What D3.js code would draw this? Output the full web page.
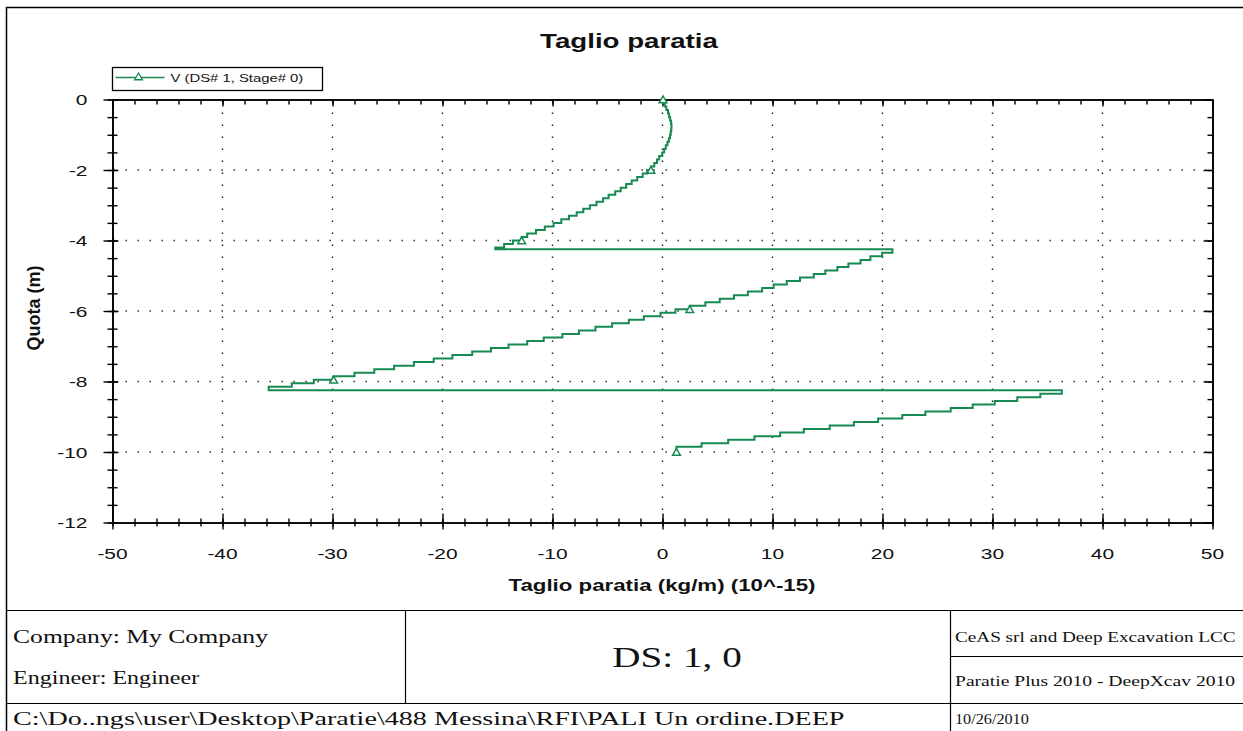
<!DOCTYPE html>
<html>
<head>
<meta charset="utf-8">
<script src="https://cdn.jsdelivr.net/npm/d3@7"></script>
<style>
  body { margin: 0; background: #fff; }
  svg { display: block; }
</style>
</head>
<body>
<svg id="chart" width="1243" height="731"></svg>
<script>
// element top depth (m) and shear value in that element
const depthTop = [
    0, -0.1, -0.2, -0.3, -0.4, -0.5, -0.6, -0.7, -0.8, -0.9, -1, -1.1, -1.2, -1.3, -1.4,
    -1.5, -1.6, -1.7, -1.8, -1.9, -2, -2.1, -2.2, -2.3, -2.4, -2.5, -2.6, -2.7, -2.8, -2.9,
    -3, -3.1, -3.2, -3.3, -3.4, -3.5, -3.6, -3.7, -3.8, -3.9, -4, -4.1, -4.2,
    -4.25, -4.35, -4.45, -4.55, -4.65, -4.75, -4.85, -4.95, -5.05, -5.15, -5.25, -5.35,
    -5.45, -5.55, -5.65, -5.75, -5.85, -5.95, -6.05, -6.15, -6.25, -6.35, -6.45, -6.55,
    -6.65, -6.75, -6.85, -6.95, -7.05, -7.15, -7.25, -7.35, -7.45, -7.55, -7.65, -7.75,
    -7.85, -7.95, -8.05, -8.15,
    -8.25, -8.35, -8.45, -8.55, -8.65, -8.75, -8.85, -8.95, -9.05, -9.15, -9.25, -9.35,
    -9.45, -9.55, -9.65, -9.75, -9.85
];
const depthBottom = -10;
const shear = [
    0.05, 0.2, 0.35, 0.5, 0.6, 0.7, 0.78, 0.82, 0.8, 0.75, 0.68, 0.58, 0.45, 0.3, 0.15,
    -0.02, -0.3, -0.5, -0.75, -1.05, -1.4, -1.8, -2.3, -2.8, -3.3, -3.8, -4.3, -4.9, -5.4, -6.0,
    -6.6, -7.2, -7.8, -8.5, -9.2, -9.9, -10.7, -11.5, -12.3, -12.8, -13.6, -14.4, -15.2,
    20.9, 19.97, 18.9, 18.0, 16.9, 15.9, 14.8, 13.75, 12.5, 11.3, 10.1, 9.06,
    7.76, 6.5, 5.2, 3.9, 2.48, 1.18, -0.18, -1.7, -3.06, -4.58, -6.09, -7.6,
    -9.1, -10.8, -12.3, -14.0, -15.6, -17.3, -19.1, -20.8, -22.6, -24.4, -26.2, -28.0,
    -29.9, -31.7, -33.7, -35.8,
    36.3, 34.35, 32.25, 30.2, 28.2, 26.2, 23.9, 21.8, 19.6, 17.4, 15.2, 12.85,
    10.7, 8.36, 5.97, 3.55, 1.27
];
const markerDepths = [0, -2, -4, -6, -8, -10];

const xTicks = [-50, -40, -30, -20, -10, 0, 10, 20, 30, 40, 50];
const yTicks = [0, -2, -4, -6, -8, -10, -12];

const chartTitle = "Taglio paratia";
const xTitle = "Taglio paratia (kg/m) (10^-15)";
const yTitle = "Quota (m)";
const legendLabel = "V (DS# 1, Stage# 0)";

const companyText = "Company: My Company";
const engineerText = "Engineer: Engineer";
const pathText = "C:\\Do..ngs\\user\\Desktop\\Paratie\\488 Messina\\RFI\\PALI Un ordine.DEEP";
const dsText = "DS: 1, 0";
const creditText = "CeAS srl and Deep Excavation LCC";
const versionText = "Paratie Plus 2010 - DeepXcav 2010";
const dateText = "10/26/2010";

const green = "#178a52";
const sans = "'Liberation Sans', Arial, sans-serif";
const serif = "'Liberation Serif', 'Times New Roman', serif";
const stretch = 1.35; // the picture is wider than the fonts

const svg = d3.select("#chart");
const W = +svg.attr("width");

const x = d3.scaleLinear().domain([-50, 50]).range([112.5, 1212.5]);
const y = d3.scaleLinear().domain([-12, 0]).range([522.5, 99.5]);

// text drawn inside a horizontally scaled group
function label(parent, o) {
    return parent.append("g")
        .attr("transform", `translate(${o.x},${o.y}) scale(${o.k || stretch},1)`)
        .append("text")
        .attr("text-anchor", o.anchor || "start")
        .attr("font-family", o.family || sans)
        .attr("font-weight", o.weight || "normal")
        .attr("font-size", o.size)
        .attr("fill", "#111")
        .text(o.text);
}

// outer frame + footer table
svg.append("rect")
    .attr("x", 6.5).attr("y", 7.5)
    .attr("width", W + 10).attr("height", 740)
    .attr("fill", "none").attr("stroke", "#000").attr("stroke-width", 1.5);

const foot = svg.append("g").attr("stroke", "#000").attr("stroke-width", 1.2);
foot.append("line").attr("x1", 6).attr("x2", W).attr("y1", 610.5).attr("y2", 610.5);
foot.append("line").attr("x1", 6).attr("x2", W).attr("y1", 703.5).attr("y2", 703.5);
foot.append("line").attr("x1", 950.5).attr("x2", W).attr("y1", 656.5).attr("y2", 656.5);
foot.append("line").attr("x1", 405.5).attr("x2", 405.5).attr("y1", 610).attr("y2", 704);
foot.append("line").attr("x1", 950.5).attr("x2", 950.5).attr("y1", 610).attr("y2", 731);

label(svg, {x: 13, y: 643, size: 19, family: serif, text: companyText});
label(svg, {x: 13, y: 684, size: 18.5, family: serif, k: 1.3, text: engineerText});
label(svg, {x: 13, y: 725, size: 18.5, family: serif, k: 1.52, text: pathText});
label(svg, {x: 677, y: 667, size: 29, family: serif, anchor: "middle", text: dsText});
label(svg, {x: 955, y: 642, size: 14, family: serif, k: 1.37, text: creditText});
label(svg, {x: 955, y: 686, size: 14, family: serif, k: 1.4, text: versionText});
label(svg, {x: 955, y: 724, size: 15, family: serif, k: 1.08, text: dateText});

// grid
const grid = svg.append("g")
    .attr("stroke", "#222").attr("stroke-width", 1.4)
    .attr("stroke-dasharray", "1.4 10.6");
grid.selectAll(".gx").data(xTicks.slice(1, -1)).join("line")
    .attr("x1", d => x(d)).attr("x2", d => x(d))
    .attr("y1", y(0) + 1).attr("y2", y(-12));
grid.selectAll(".gy").data(yTicks.slice(1, -1)).join("line")
    .attr("y1", d => y(d)).attr("y2", d => y(d))
    .attr("x1", x(-50) + 1).attr("x2", x(50));

// axes (lines and ticks from d3.axis, labels drawn stretched)
function styleAxis(g) {
    g.select(".domain").attr("stroke", "#000").attr("stroke-width", 1.6);
    g.selectAll(".tick line").attr("stroke", "#000").attr("stroke-width", 1.4);
}

// bottom
svg.append("g").attr("transform", `translate(0,${y(-12)})`)
    .call(d3.axisBottom(x).ticks(50).tickFormat("").tickSizeOuter(0))
    .call(styleAxis)
    .call(g => g.selectAll(".tick line").attr("y1", -4).attr("y2", 4));
svg.append("g").attr("transform", `translate(0,${y(-12)})`)
    .call(d3.axisBottom(x).tickValues(xTicks).tickFormat("").tickSizeOuter(0))
    .call(styleAxis)
    .call(g => g.selectAll(".tick line").attr("y1", -9).attr("y2", 7));
const xLab = svg.append("g");
xTicks.forEach(t => label(xLab, {x: x(t), y: y(-12) + 36, size: 15.5, anchor: "middle", text: String(t)}));

// top
svg.append("g").attr("transform", `translate(0,${y(0)})`)
    .call(d3.axisBottom(x).ticks(50).tickFormat("").tickSize(5).tickSizeOuter(0))
    .call(styleAxis);
svg.append("g").attr("transform", `translate(0,${y(0)})`)
    .call(d3.axisBottom(x).tickValues(xTicks).tickFormat("").tickSize(7).tickSizeOuter(0))
    .call(styleAxis);

// left
svg.append("g").attr("transform", `translate(${x(-50)},0)`)
    .call(d3.axisLeft(y).ticks(24).tickFormat("").tickSizeOuter(0))
    .call(styleAxis)
    .call(g => g.selectAll(".tick line").attr("x1", -5).attr("x2", 5));
svg.append("g").attr("transform", `translate(${x(-50)},0)`)
    .call(d3.axisLeft(y).tickValues(yTicks).tickFormat("").tickSizeOuter(0))
    .call(styleAxis)
    .call(g => g.selectAll(".tick line").attr("x1", -9).attr("x2", 6));
const yLab = svg.append("g");
yTicks.forEach(t => label(yLab, {x: x(-50) - 25, y: y(t) + 5.5, size: 15.5, anchor: "end", text: String(t)}));

// right
svg.append("g").attr("transform", `translate(${x(50)},0)`)
    .call(d3.axisLeft(y).ticks(24).tickFormat("").tickSize(-5).tickSizeOuter(0))
    .call(styleAxis)
    .call(g => g.selectAll(".tick line").attr("x1", -5).attr("x2", 0));
svg.append("g").attr("transform", `translate(${x(50)},0)`)
    .call(d3.axisLeft(y).tickValues(yTicks).tickFormat("").tickSizeOuter(0))
    .call(styleAxis)
    .call(g => g.selectAll(".tick line").attr("x1", -9).attr("x2", 0));

// titles
label(svg, {x: 629, y: 48, size: 20.5, weight: "bold", anchor: "middle", text: chartTitle});
label(svg, {x: 662, y: 591, size: 16.5, weight: "bold", anchor: "middle", text: xTitle});
svg.append("text")
    .attr("transform", "translate(40,308) rotate(-90)")
    .attr("text-anchor", "middle").attr("font-family", sans).attr("font-weight", "bold")
    .attr("font-size", 18).attr("fill", "#111").text(yTitle);

// shear staircase
const pts = [];
depthTop.forEach((z, i) => {
    const zb = i < depthTop.length - 1 ? depthTop[i + 1] : depthBottom;
    pts.push([shear[i], z], [shear[i], zb]);
});
const line = d3.line().x(d => x(d[0])).y(d => y(d[1]));
svg.append("path")
    .attr("d", line(pts))
    .attr("fill", "none").attr("stroke", green).attr("stroke-width", 2)
    .attr("stroke-linejoin", "miter");

// markers: element ending nearest each marker depth
const marks = markerDepths.map(md => {
    if (md === 0) return [shear[0], depthTop[0]];
    let best = 0, bd = Infinity;
    depthTop.forEach((z, i) => {
        const zb = i < depthTop.length - 1 ? depthTop[i + 1] : depthBottom;
        const dd = Math.abs(zb - md);
        if (dd < bd) { bd = dd; best = i; }
    });
    const zb = best < depthTop.length - 1 ? depthTop[best + 1] : depthBottom;
    return [shear[best], zb];
});
const tri = d3.symbol().type(d3.symbolTriangle).size(26);
svg.selectAll(".mark").data(marks).join("path")
    .attr("class", "mark")
    .attr("transform", d => `translate(${x(d[0])},${y(d[1]) + 1})`)
    .attr("d", tri)
    .attr("fill", "#fff").attr("stroke", green).attr("stroke-width", 1.5);

// legend
const lg = svg.append("g").attr("transform", "translate(112.5,67.5)");
lg.append("rect").attr("width", 210).attr("height", 23)
    .attr("fill", "#fff").attr("stroke", "#000").attr("stroke-width", 1.3);
lg.append("line").attr("x1", 3).attr("x2", 52).attr("y1", 10).attr("y2", 10)
    .attr("stroke", green).attr("stroke-width", 1.5);
lg.append("path").attr("transform", "translate(26,10)").attr("d", tri)
    .attr("fill", "#fff").attr("stroke", green).attr("stroke-width", 1.3);
label(lg, {x: 58, y: 14, size: 11, text: legendLabel});
</script>
</body>
</html>
